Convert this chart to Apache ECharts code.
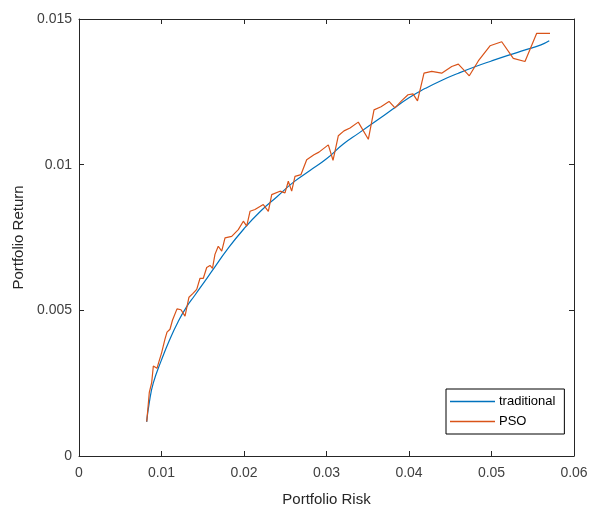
<!DOCTYPE html>
<html>
<head>
<meta charset="utf-8">
<script src="https://cdn.jsdelivr.net/npm/echarts@6/dist/echarts.min.js"></script>
<style>html,body{margin:0;padding:0;background:#fff}#c{width:592px;height:512px}</style>
</head>
<body>
<div id="c"></div>
<script>
const seriesNames = ['traditional', 'PSO'];
const tradRisk = [0.0082, 0.0085, 0.009, 0.010, 0.011, 0.012, 0.013, 0.014, 0.015, 0.016, 0.018, 0.020, 0.022, 0.024, 0.026, 0.028, 0.030, 0.032, 0.034, 0.036, 0.038, 0.040, 0.042, 0.044, 0.046, 0.048, 0.050, 0.052, 0.054, 0.056, 0.057];
const tradReturn = [0.00117, 0.0018, 0.0025, 0.0033, 0.0040, 0.0046, 0.0051, 0.0055, 0.0059, 0.0063, 0.0071, 0.0078, 0.0084, 0.0089, 0.0094, 0.0098, 0.0102, 0.0107, 0.0111, 0.0115, 0.0119, 0.0123, 0.01262, 0.01290, 0.01314, 0.01336, 0.01356, 0.01375, 0.01393, 0.01411, 0.01425];
const psoRisk = [0.00821, 0.00840, 0.00852, 0.00881, 0.00901, 0.00921, 0.00945, 0.00970, 0.01002, 0.01042, 0.01067, 0.01103, 0.01133, 0.01188, 0.01236, 0.01285, 0.01333, 0.01382, 0.01427, 0.01467, 0.01507, 0.01548, 0.01588, 0.01618, 0.01648, 0.01688, 0.01730, 0.01770, 0.01851, 0.01931, 0.01992, 0.02033, 0.02073, 0.02133, 0.02234, 0.02295, 0.02336, 0.02436, 0.02497, 0.02537, 0.02578, 0.02618, 0.02691, 0.02760, 0.02848, 0.02909, 0.03022, 0.03079, 0.03143, 0.03212, 0.03285, 0.03385, 0.03507, 0.03576, 0.03661, 0.03758, 0.03830, 0.03909, 0.03988, 0.04048, 0.04103, 0.04182, 0.04275, 0.04396, 0.04518, 0.04598, 0.04731, 0.04840, 0.04982, 0.05124, 0.05264, 0.05406, 0.05548, 0.05709];
const psoReturn = [0.00118, 0.00178, 0.00218, 0.00252, 0.00309, 0.00315, 0.00301, 0.00325, 0.00355, 0.00401, 0.00425, 0.00435, 0.00466, 0.00505, 0.00502, 0.00480, 0.00545, 0.00558, 0.00572, 0.00610, 0.00610, 0.00647, 0.00654, 0.00644, 0.00692, 0.00720, 0.00703, 0.00749, 0.00754, 0.00777, 0.00806, 0.00789, 0.00840, 0.00846, 0.00863, 0.00840, 0.00897, 0.00909, 0.00903, 0.00943, 0.00909, 0.00960, 0.00966, 0.01017, 0.01034, 0.01043, 0.01068, 0.01015, 0.01099, 0.01116, 0.01126, 0.01146, 0.01087, 0.01188, 0.01199, 0.01217, 0.01195, 0.01219, 0.01240, 0.01243, 0.01219, 0.01314, 0.01320, 0.01314, 0.01337, 0.01345, 0.01305, 0.01356, 0.01408, 0.01422, 0.01365, 0.01354, 0.01451, 0.01451];
const xTicks = [0, 0.01, 0.02, 0.03, 0.04, 0.05, 0.06];
const xTickLabels = ['0', '0.01', '0.02', '0.03', '0.04', '0.05', '0.06'];
const yTicks = [0, 0.005, 0.01, 0.015];
const yTickLabels = ['0', '0.005', '0.01', '0.015'];

const font = 'Liberation Sans, Arial, sans-serif';
const axisColor = '#262626';
const labelColor = '#404040';

function pairs(xs, ys) { return xs.map((x, i) => [x, ys[i]]); }
function fmt(ticks, labels) {
  return v => { for (let i = 0; i < ticks.length; i++) if (Math.abs(v - ticks[i]) < 1e-9) return labels[i]; return ''; };
}

const chart = echarts.init(document.getElementById('c'), null, { renderer: 'canvas' });
function baseAxis(extra) {
  return Object.assign({
    type: 'value',
    axisLine: { show: true, onZero: false, lineStyle: { color: axisColor, width: 1 } },
    axisTick: { show: true, inside: true, length: 5, lineStyle: { color: axisColor, width: 1 } },
    splitLine: { show: false },
    axisLabel: { show: false }
  }, extra);
}
chart.setOption({
  animation: false,
  backgroundColor: '#fff',
  grid: { left: 79, right: 18, top: 19, bottom: 55, containLabel: false },
  xAxis: [
    baseAxis({
      position: 'bottom', min: 0, max: 0.06, interval: 0.01,
      name: 'Portfolio Risk', nameLocation: 'middle', nameGap: 36,
      nameTextStyle: { fontFamily: font, fontSize: 15, color: '#262626' },
      axisLabel: { show: true, margin: 10, fontFamily: font, fontSize: 14, color: labelColor, formatter: fmt(xTicks, xTickLabels) }
    }),
    baseAxis({ position: 'top', min: 0, max: 0.06, interval: 0.01 })
  ],
  yAxis: [
    baseAxis({
      position: 'left', min: 0, max: 0.015, interval: 0.005,
      name: 'Portfolio Return', nameLocation: 'middle', nameGap: 53,
      nameTextStyle: { fontFamily: font, fontSize: 15, color: '#262626' },
      axisLabel: { show: true, margin: 7, fontFamily: font, fontSize: 14, color: labelColor, formatter: fmt(yTicks, yTickLabels) }
    }),
    baseAxis({ position: 'right', min: 0, max: 0.015, interval: 0.005 })
  ],
  legend: {
    orient: 'vertical', left: 446, top: 389,
    backgroundColor: '#fff', borderColor: '#000', borderWidth: 1,
    padding: [6, 9, 6, 4], itemGap: 7, itemWidth: 45, itemHeight: 1.5,
    icon: 'rect',
    textStyle: { fontFamily: font, fontSize: 13, color: '#000', padding: [0, 0, 0, -1], lineHeight: 13 },
    data: seriesNames
  },
  series: [
    { name: seriesNames[0], type: 'line', data: pairs(tradRisk, tradReturn), symbol: 'none', smooth: true,
      lineStyle: { color: '#0072BD', width: 1.2 }, itemStyle: { color: '#0072BD' } },
    { name: seriesNames[1], type: 'line', data: pairs(psoRisk, psoReturn), symbol: 'none',
      lineStyle: { color: '#D95319', width: 1.2 }, itemStyle: { color: '#D95319' } }
  ]
});
</script>
</body>
</html>
